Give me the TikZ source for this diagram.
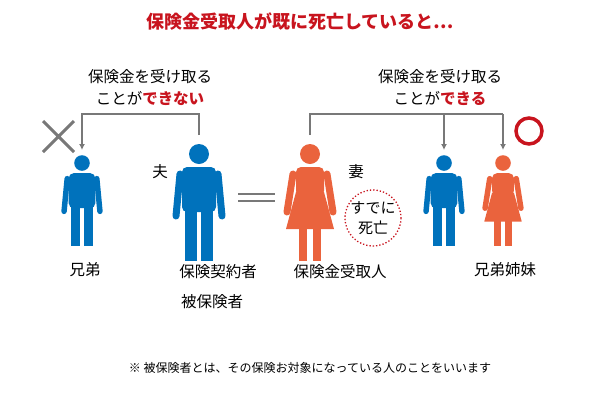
\documentclass[tikz,border=0pt]{standalone}
\usepackage{fontspec}
\setmainfont{Noto Sans CJK JP}
\definecolor{manblue}{RGB}{0,114,188}
\definecolor{womanred}{RGB}{234,99,61}
\definecolor{alertred}{RGB}{200,20,30}
\definecolor{linegray}{RGB}{120,120,120}
\tikzset{
  lbl/.style={font=\fontsize{15.5}{22}\selectfont, inner sep=0.75pt},
  bracket/.style={draw=linegray, line width=1.2pt},
  tip/.style={bracket, -{Latex[length=6pt,width=6pt]}},
}
\usetikzlibrary{arrows.meta}
% man figure: #1 position, #2 scale
\newcommand{\manfig}[2]{%
  \begin{scope}[shift={#1}, scale=#2, fill=manblue]
    \fill (0,0) circle (10);
    \fill[rounded corners=5pt] (-17,13) -- (17,13) -- (17,58) -- (-17,58) -- cycle;
    \draw[manblue, line width=7*#2pt, line cap=round] (-19,20) -- (-23,62) (19,20) -- (23,62);
    \fill (-14,55) rectangle (-2,107);
    \fill (2,55) rectangle (14,107);
  \end{scope}}
% woman figure
\newcommand{\womanfig}[2]{%
  \begin{scope}[shift={#1}, scale=#2, fill=womanred]
    \fill (0,0) circle (10);
    \fill[rounded corners=5pt] (-14,13) -- (14,13) -- (14,42) -- (-14,42) -- cycle;
    \fill (-14,38) -- (14,38) -- (24,75) -- (-24,75) -- cycle;
    \draw[womanred, line width=7*#2pt, line cap=round] (-17,20) -- (-23,58) (17,20) -- (23,58);
    \fill (-11,74) rectangle (-3,107);
    \fill (3,74) rectangle (11,107);
  \end{scope}}
\begin{document}
\begin{tikzpicture}[x=1pt,y=-1pt]
\useasboundingbox (0,0) rectangle (600,400);

% title
\node[font=\fontsize{18}{20}\selectfont\bfseries, text=alertred] (title) at (300,22) {保険金受取人が既に死亡していると…};

% figures
\manfig{(82,163)}{0.78}
\manfig{(199,154)}{1}
\womanfig{(310,154)}{1}
\manfig{(444,163)}{0.78}
\womanfig{(503,163)}{0.78}

% coordinates for brackets
\coordinate (husband) at (199,135);
\coordinate (brother) at (82,150);
\coordinate (wife) at (310,135);
\coordinate (sib1) at (444,150);
\coordinate (sib2) at (503,150);
\draw[tip] (husband) |- (82,114) -- (brother);
\draw[bracket] (wife) |- (503,114);
\draw[tip] (444,114) -- (sib1);
\draw[tip] (503,114) -- (sib2);

% marks
\draw[linegray, line width=3pt] (43,121) -- (74,152) (74,121) -- (43,152);
\draw[alertred, line width=3.5pt] (529,131) circle (13);
\draw[linegray, line width=1.5pt] (238,194) -- (275,194) (238,201) -- (275,201);
\draw[alertred, line width=1.3pt, dotted] (373,218) circle (28);
\node[lbl, align=center, font=\fontsize{15}{20}\selectfont] (dead) at (373,218) {すでに\\死亡};

% labels
\node[lbl] (husbandlbl) at (160,172) {夫};
\node[lbl] (wifelbl) at (356,172) {妻};
\node[lbl, align=center] (cannot) at (150,88) {保険金を受け取る\\ことが{\color{alertred}\bfseries できない}};
\node[lbl, align=center] (can) at (440,88) {保険金を受け取る\\ことが{\color{alertred}\bfseries できる}};
\node[lbl] (brotherlbl) at (85,270) {兄弟};
\node[lbl] (holder) at (218,272) {保険契約者};
\node[lbl] (insured) at (212,302) {被保険者};
\node[lbl] (benef) at (340,272) {保険金受取人};
\node[lbl] (siblings) at (505,270) {兄弟姉妹};
\node[font=\fontsize{12}{14}\selectfont] (note) at (310,368) {※ 被保険者とは、その保険お対象になっている人のことをいいます};
\end{tikzpicture}
\end{document}
